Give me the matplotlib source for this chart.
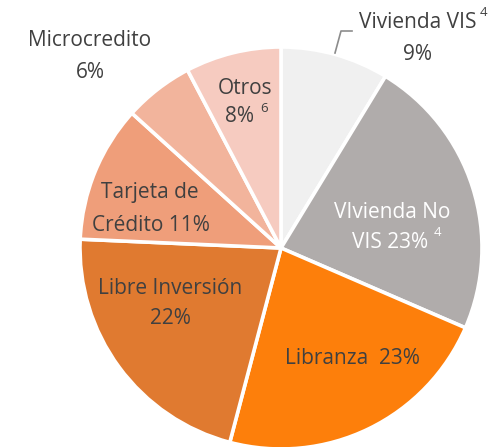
import matplotlib.pyplot as plt

# datos de la cartera (porcentaje)
categorias = ["Vivienda VIS", "VIvienda No VIS", "Libranza", "Libre Inversión",
              "Tarjeta de Crédito", "Microcredito", "Otros"]
valores = [8.7, 22.8, 22.6, 21.6, 11.0, 5.6, 7.7]
etiquetas_pct = ["9%", "23%", "23%", "22%", "11%", "6%", "8%"]
colores = ["#f0f0f0", "#b0acab", "#fd7f0b", "#e07a30", "#ef9e7a", "#f2b49c", "#f6cbc0"]

W, H = 494, 447
cx, cy, R = 281, 248, 201  # centro y radio en pixeles


def px(x, y):
    # pixel -> coordenadas de datos
    return (x - cx) / R, (cy - y) / R


fig = plt.figure(figsize=(W / 100, H / 100), dpi=100)
ax = fig.add_axes([0, 0, 1, 1])
ax.pie(valores, colors=colores, startangle=90, counterclock=False, radius=1,
       wedgeprops=dict(edgecolor="white", linewidth=2.6))
ax.set_xlim(-cx / R, (W - cx) / R)
ax.set_ylim(-(H - cy) / R, cy / R)
ax.set_aspect("equal")
ax.axis("off")

fam = "Open Sans"
fs = 15
sup = 9.5
txt = "#404040"


def t(x, y, s, color=txt, size=fs, ha="center"):
    ax.text(*px(x, y), s, ha=ha, va="center", color=color, fontsize=size, family=fam)


# Vivienda VIS (fuera, con linea guia)
t(418, 22, categorias[0])
t(483, 12, "4", size=sup)
t(418, 55, etiquetas_pct[0])
lx, ly = zip(px(335, 53), px(341, 31), px(352, 31))
ax.plot(lx, ly, color="#8c8c8c", lw=1.2)

# VIvienda No VIS
t(392, 213, "VIvienda No", color="white")
t(390, 243, "VIS " + etiquetas_pct[1], color="white")
t(437, 233, "4", color="white", size=sup)

# Libranza
t(352, 359, categorias[2] + "  " + etiquetas_pct[2])

# Libre Inversion
t(170, 288, categorias[3])
t(170, 319, etiquetas_pct[3])

# Tarjeta de Credito
t(150, 193, "Tarjeta de")
t(151, 226, "Crédito " + etiquetas_pct[4])

# Microcredito (fuera)
t(90, 40, categorias[5])
t(90, 72, etiquetas_pct[5])

# Otros
t(245, 88, categorias[6])
t(240, 117, etiquetas_pct[6])
t(264, 108, "6", size=sup)

fig.savefig("out.png", dpi=100)
